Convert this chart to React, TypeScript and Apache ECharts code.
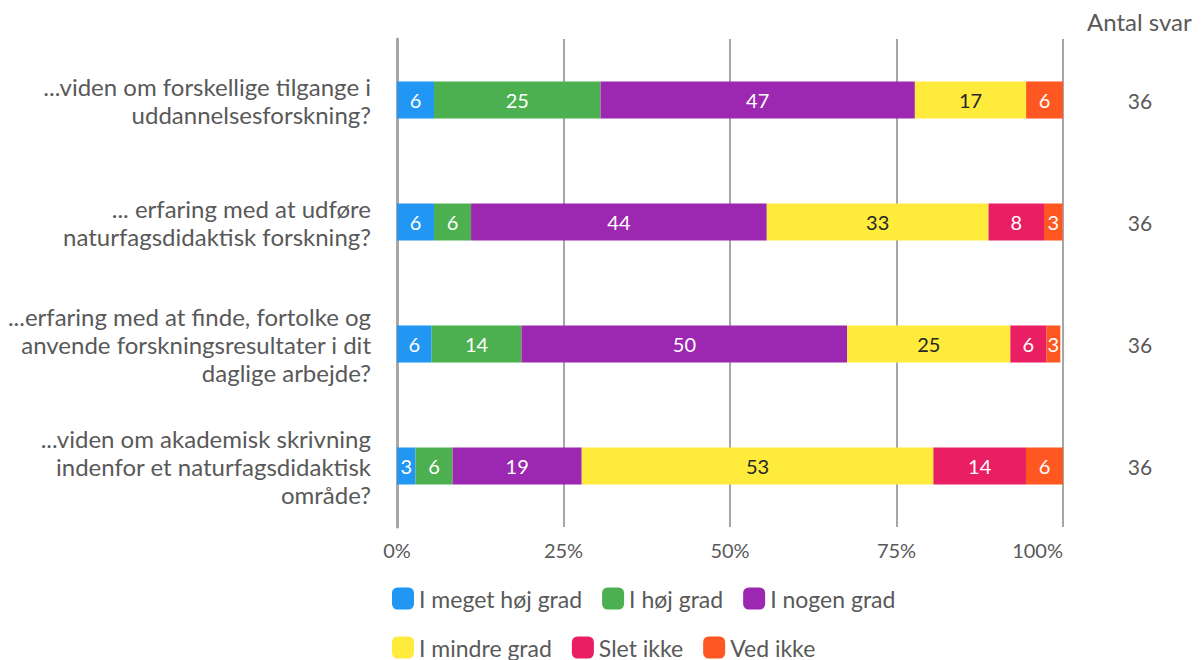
import React, { useEffect, useRef } from "react";
import * as echarts from "echarts";

const categories = [
  "...viden om forskellige tilgange i\nuddannelsesforskning?",
  "... erfaring med at udføre\nnaturfagsdidaktisk forskning?",
  "...erfaring med at finde, fortolke og\nanvende forskningsresultater i dit\ndaglige arbejde?",
  "...viden om akademisk skrivning\nindenfor et naturfagsdidaktisk\nområde?",
];
const answerCounts = ["36", "36", "36", "36"];
const countTitle = "Antal svar";
const tickLabels = ["0%", "25%", "50%", "75%", "100%"];

const seriesNames = ["I meget høj grad", "I høj grad", "I nogen grad", "I mindre grad", "Slet ikke", "Ved ikke"];
const seriesColors = ["#2196F3", "#4CAF50", "#9C27B0", "#FFEB3B", "#E91E63", "#FF5722"];
const labelColors = ["#ffffff", "#ffffff", "#ffffff", "#262626", "#ffffff", "#ffffff"];

// bar widths (percent of respondents)
const meget = [5.56, 5.56, 5.2, 2.78];
const hoj = [25, 5.56, 13.5, 5.56];
const nogen = [47.2, 44.4, 48.9, 19.4];
const mindre = [16.7, 33.3, 24.5, 52.8];
const slet = [0, 8.33, 5.4, 13.9];
const vedIkke = [5.56, 2.78, 2.1, 5.56];

// displayed labels
const megetLbl = [6, 6, 6, 3];
const hojLbl = [25, 6, 14, 6];
const nogenLbl = [47, 44, 50, 19];
const mindreLbl = [17, 33, 25, 53];
const sletLbl = [null, 8, 6, 14];
const vedIkkeLbl = [6, 3, 3, 6];

const seriesValues = [meget, hoj, nogen, mindre, slet, vedIkke];
const seriesLabels = [megetLbl, hojLbl, nogenLbl, mindreLbl, sletLbl, vedIkkeLbl];

const FONT = "Lato, 'Open Sans', sans-serif";
const TEXT = "#595959";

export default function App() {
  const ref = useRef<HTMLDivElement>(null);
  useEffect(() => {
    if (!ref.current) return;
    const chart = echarts.init(ref.current, null, { renderer: "svg" });
    const legendBase = {
      left: 387,
      itemWidth: 22,
      itemHeight: 22,
      itemGap: 20,
      icon: "roundRect",
      textStyle: { fontSize: 23, color: TEXT, fontFamily: FONT },
    };
    chart.setOption({
      animation: false,
      textStyle: { fontFamily: FONT },
      grid: { left: 397, right: 139, top: 39, bottom: 133, containLabel: false },
      xAxis: {
        type: "value",
        min: 0,
        max: 100,
        interval: 25,
        axisLine: { show: false },
        axisTick: { show: false },
        splitLine: { show: true, lineStyle: { color: "#A6A6A6", width: 2 } },
        axisLabel: {
          margin: 13,
          fontSize: 20,
          color: TEXT,
          fontFamily: FONT,
          alignMaxLabel: "right",
          formatter: (v: number) => tickLabels[Math.round(v / 25)],
        },
      },
      yAxis: [
        {
          type: "category",
          data: categories,
          inverse: true,
          axisLine: { show: true, lineStyle: { color: "#A6A6A6", width: 3 } },
          axisTick: { show: false },
          axisLabel: {
            margin: 26,
            fontSize: 24,
            lineHeight: 28,
            color: TEXT,
            align: "right",
            fontFamily: FONT,
          },
        },
        {
          type: "category",
          data: answerCounts,
          inverse: true,
          position: "right",
          axisLine: { show: false },
          axisTick: { show: false },
          axisLabel: {
            margin: 77,
            align: "center",
            fontSize: 21,
            color: TEXT,
            fontFamily: FONT,
          },
        },
      ],
      legend: [
        { ...legendBase, data: seriesNames.slice(0, 3), top: 582 },
        { ...legendBase, data: seriesNames.slice(3), top: 631 },
      ],
      graphic: [
        {
          type: "text",
          left: 1087,
          top: 9,
          style: { text: countTitle, fontSize: 24, fill: TEXT, fontFamily: FONT },
        },
      ],
      series: seriesNames.map((name, i) => ({
        name,
        type: "bar",
        stack: "total",
        barWidth: 37,
        data: seriesValues[i],
        itemStyle: { color: seriesColors[i] },
        label: {
          show: true,
          position: "inside",
          color: labelColors[i],
          fontSize: 20,
          fontFamily: FONT,
          formatter: (p: any) => {
            const l = seriesLabels[i][p.dataIndex];
            return l == null ? "" : String(l);
          },
        },
      })),
    });
    return () => chart.dispose();
  }, []);
  return <div ref={ref} style={{ width: 1202, height: 660, position: "absolute", left: 0, top: 0 }} />;
}
